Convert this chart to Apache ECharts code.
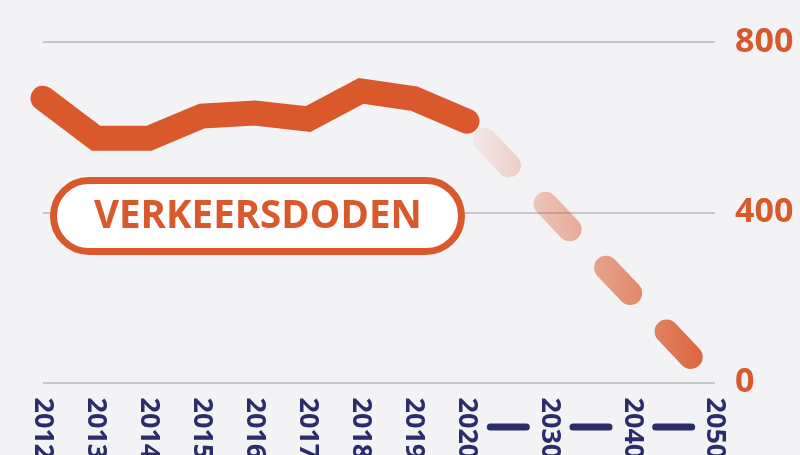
<!DOCTYPE html>
<html>
<head>
<meta charset="utf-8">
<script src="https://cdn.jsdelivr.net/npm/echarts@6/dist/echarts.min.js"></script>
<style>
  html, body { margin: 0; padding: 0; background: #f3f3f6; }
  #chart { width: 800px; height: 455px; }
</style>
</head>
<body>
<div id="chart"></div>
<script>
// gemeten jaren
var pastYears = ['2012', '2013', '2014', '2015', '2016', '2017', '2018', '2019', '2020'];
var pastDeaths = [668, 574, 574, 626, 633, 619, 685, 667, 614];
// doel tot 2050 ('|' = streepje tussen de jaartallen)
var futureTicks = ['2020', '|', '2030', '|', '2040', '|', '2050'];
var futureDeaths = [['2020', 614], ['2050', 0]];
var yTicks = [0, 400, 800];

var orange = '#d9582c';
var navy = '#2b2c6c';
var gridGray = '#b8b8bc';

(function () {
  var myChart = echarts.init(document.getElementById('chart'));

  var yBase = {
    type: 'value',
    min: yTicks[0],
    max: yTicks[yTicks.length - 1],
    interval: yTicks[1] - yTicks[0],
    axisLine: { show: false },
    axisTick: { show: false },
    splitLine: { lineStyle: { color: gridGray, width: 1.5 } }
  };

  var option = {
    backgroundColor: '#f3f3f6',
    animation: false,
    title: {
      text: 'VERKEERSDODEN',
      left: 53,
      top: 180,
      backgroundColor: '#ffffff',
      borderColor: orange,
      borderWidth: 7,
      borderRadius: 40,
      padding: [14, 40, 12, 41],
      textStyle: {
        color: orange,
        fontFamily: 'Open Sans',
        fontWeight: 'bold',
        fontSize: 38.5,
        lineHeight: 46
      }
    },
    grid: [
      { left: 43, right: 333, top: 42, bottom: 72.5, outerBoundsMode: 'none' },
      { left: 467, right: 85, top: 42, bottom: 72.5, outerBoundsMode: 'none' }
    ],
    xAxis: [
      {
        type: 'category',
        gridIndex: 0,
        data: pastYears,
        boundaryGap: false,
        axisLine: { show: false },
        axisTick: { show: false },
        axisLabel: {
          rotate: -90,
          margin: 15,
          color: navy,
          fontFamily: 'Open Sans',
          fontWeight: 'bold',
          fontSize: 27
        }
      },
      {
        type: 'category',
        gridIndex: 1,
        data: futureTicks,
        boundaryGap: false,
        axisLine: { show: false },
        axisTick: { show: false },
        axisLabel: {
          rotate: -90,
          margin: 15,
          interval: 0,
          color: navy,
          fontFamily: 'Open Sans',
          fontWeight: 'bold',
          fontSize: 27,
          formatter: function (v, i) {
            if (i === 0) return '';
            if (v === '|') return '{gap| }{bar| }';
            return v;
          },
          rich: {
            gap: { width: 26, height: 43 },
            bar: { width: 7, height: 43, backgroundColor: navy, borderRadius: 3.5 }
          }
        }
      }
    ],
    yAxis: [
      Object.assign({}, yBase, { gridIndex: 0, axisLabel: { show: false } }),
      Object.assign({}, yBase, {
        gridIndex: 1,
        position: 'right',
        axisLabel: {
          margin: 20,
          color: orange,
          fontFamily: 'Open Sans',
          fontWeight: 'bold',
          fontSize: 34
        }
      })
    ],
    series: [
      {
        type: 'line',
        xAxisIndex: 1,
        yAxisIndex: 1,
        data: futureDeaths,
        symbol: 'none',
        z: 2,
        lineStyle: {
          width: 24,
          cap: 'round',
          type: [35, 53],
          dashOffset: 62,
          color: new echarts.graphic.LinearGradient(0, 0, 1, 0, [
            { offset: 0, color: 'rgba(217, 88, 44, 0)' },
            { offset: 1, color: 'rgba(217, 88, 44, 1)' }
          ])
        }
      },
      {
        type: 'line',
        xAxisIndex: 0,
        yAxisIndex: 0,
        data: pastDeaths,
        symbol: 'none',
        z: 3,
        lineStyle: { width: 25, color: orange, cap: 'round', join: 'miter' }
      }
    ]
  };

  myChart.setOption(option);
  window.addEventListener('resize', function () {
    myChart.resize();
  });
})();
</script>
</body>
</html>
